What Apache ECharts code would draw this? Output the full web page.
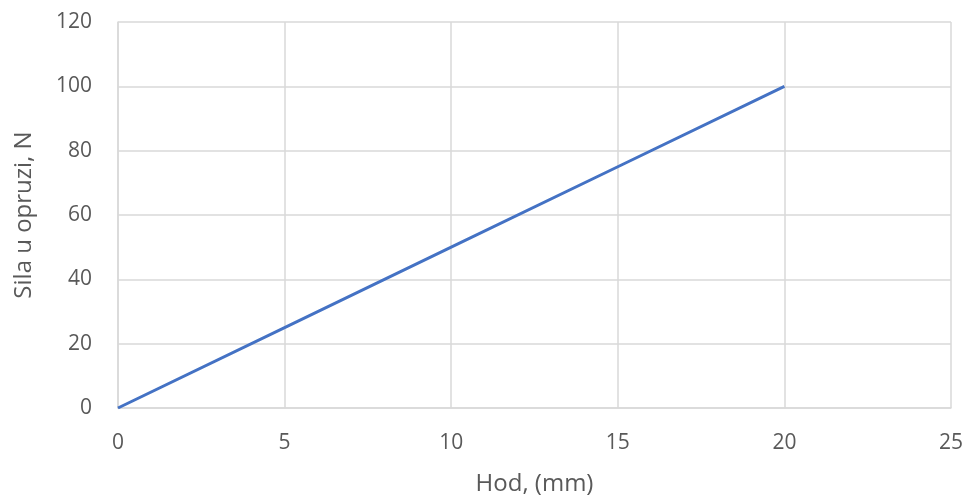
<!DOCTYPE html>
<html>
<head>
<meta charset="utf-8">
<script src="https://cdn.jsdelivr.net/npm/echarts@6/dist/echarts.min.js"></script>
<style>
  html, body { margin: 0; padding: 0; background: #fff; }
  #chart { width: 967px; height: 497px; }
</style>
</head>
<body>
<div id="chart"></div>
<script>
// hod (mm) vs sila u opruzi (N)
const hod = [0, 5, 10, 15, 20];
const sila = [0, 25, 50, 75, 100];

const chart = echarts.init(document.getElementById('chart'));
const textColor = '#595959';
const gridColor = '#d9d9d9';

const option = {
  animation: false,
  textStyle: { fontFamily: 'Open Sans, Liberation Sans, sans-serif' },
  grid: { left: 118, right: 16, top: 22, bottom: 89, outerBoundsMode: 'none' },
  xAxis: {
    type: 'value',
    min: 0, max: 25, interval: 5,
    name: 'Hod, (mm)',
    nameLocation: 'middle',
    nameGap: 64,
    nameTextStyle: { color: textColor, fontSize: 24 },
    axisLine: { show: true, lineStyle: { color: gridColor, width: 1.5 } },
    axisTick: { show: false },
    axisLabel: { color: textColor, fontSize: 21, margin: 25 },
    splitLine: { show: true, lineStyle: { color: gridColor, width: 1.5 } }
  },
  yAxis: {
    type: 'value',
    min: 0, max: 120, interval: 20,
    name: 'Sila u opruzi, N',
    nameLocation: 'middle',
    nameGap: 82,
    nameTextStyle: { color: textColor, fontSize: 24 },
    axisLine: { show: true, lineStyle: { color: gridColor, width: 1.5 } },
    axisTick: { show: false },
    axisLabel: { color: textColor, fontSize: 21, margin: 26 },
    splitLine: { show: true, lineStyle: { color: gridColor, width: 1.5 } }
  },
  series: [
    {
      type: 'line',
      data: hod.map((x, i) => [x, sila[i]]),
      showSymbol: false,
      lineStyle: { color: '#4472c4', width: 3 },
      itemStyle: { color: '#4472c4' }
    }
  ]
};

chart.setOption(option);
</script>
</body>
</html>
